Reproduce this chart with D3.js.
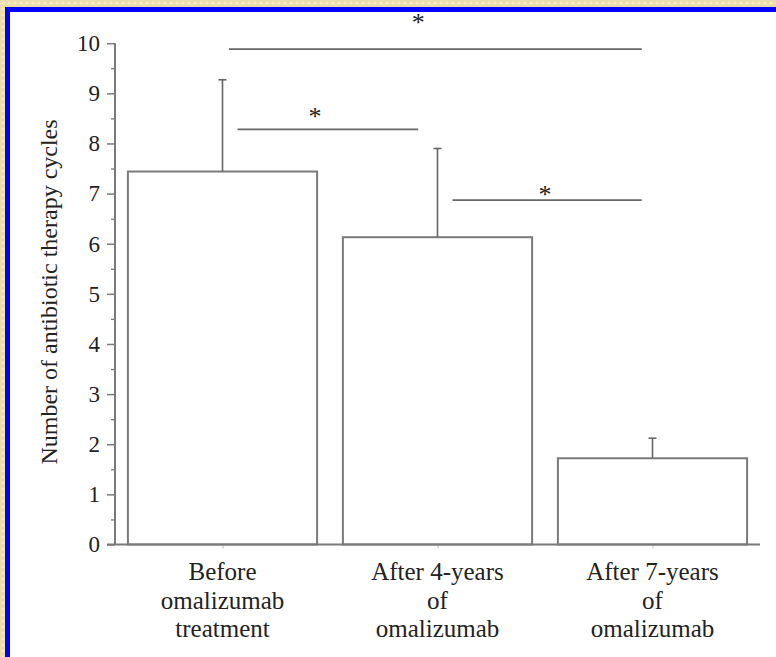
<!DOCTYPE html>
<html>
<head>
<meta charset="utf-8">
<script src="https://cdn.jsdelivr.net/npm/d3@7"></script>
<style>
  html, body { margin: 0; padding: 0; background: #fff; }
  svg { display: block; }
  text { font-family: "Liberation Serif", "Times New Roman", serif; fill: #222; }
</style>
</head>
<body>
<svg id="chart" width="776" height="657"></svg>
<script>
// Group labels (one entry per line of text)
const categories = [
  ["Before", "omalizumab", "treatment"],
  ["After 4-years", "of", "omalizumab"],
  ["After 7-years", "of", "omalizumab"]
];
// Mean number of antibiotic therapy cycles per period
const means = [7.44, 6.13, 1.72];
// Upper error (SD) above each mean
const errors = [1.83, 1.77, 0.40];
// y-axis tick labels
const yTicks = [0, 1, 2, 3, 4, 5, 6, 7, 8, 9, 10];
const yMinorTicks = [0.5, 1.5, 2.5, 3.5, 4.5, 5.5, 6.5, 7.5, 8.5, 9.5];
// Significance brackets: start/end in group-index units, level in y units, star position
const bracketFrom  = [0.07, 0.03, 1.07];
const bracketTo    = [0.91, 1.95, 1.95];
const bracketLevel = [8.28, 9.88, 6.87];
const starAt       = [0.43, 0.91, 1.50];
const starLevel    = [8.62, 10.50, 7.08];
const starText     = ["*", "*", "*"];
const yTitle = "Number of antibiotic therapy cycles";

const svg = d3.select("#chart");
const W = 776, H = 657;

// Page frame: textured beige strip and blue rule along the top and left
const defs = svg.append("defs");
const pat = defs.append("pattern").attr("id", "paper")
  .attr("width", 6).attr("height", 6).attr("patternUnits", "userSpaceOnUse");
pat.append("rect").attr("width", 6).attr("height", 6).attr("fill", "#ecdcab");
pat.append("circle").attr("cx", 3).attr("cy", 3).attr("r", 1.6).attr("fill", "#f6ecc9");
svg.append("rect").attr("width", W).attr("height", H).attr("fill", "url(#paper)");
svg.append("rect").attr("x", 5).attr("y", 7).attr("width", W - 5).attr("height", H - 7).attr("fill", "#0000ff");
svg.append("rect").attr("x", 10).attr("y", 12).attr("width", W - 10).attr("height", H - 12).attr("fill", "#ffffff");

const axisX = 115, x0 = 115, x1 = 760;
const y = d3.scaleLinear().domain([0, 10]).range([544.5, 43.2]);
const x = d3.scaleBand().domain(d3.range(categories.length)).range([x0, x1])
  .paddingInner(0.12).paddingOuter(0.06);
const cx = d3.scaleLinear().domain([0, 1]).range([x(0) + x.bandwidth() / 2, x(1) + x.bandwidth() / 2]);

const gray = "#7a7a7a";

// Bars
svg.append("g").selectAll("rect").data(means).join("rect")
  .attr("x", (d, i) => x(i))
  .attr("y", d => y(d))
  .attr("width", x.bandwidth())
  .attr("height", d => y(0) - y(d))
  .attr("fill", "#fff").attr("stroke", gray).attr("stroke-width", 2);

// Error bars (upper whisker only)
const eg = svg.append("g").attr("stroke", "#666").attr("stroke-width", 1.6);
means.forEach((m, i) => {
  const c = cx(i);
  eg.append("line").attr("x1", c).attr("x2", c).attr("y1", y(m)).attr("y2", y(m + errors[i]));
  eg.append("line").attr("x1", c - 4).attr("x2", c + 4).attr("y1", y(m + errors[i])).attr("y2", y(m + errors[i]));
});

// y axis with labelled major ticks and unlabelled half-step ticks
const yAxis = d3.axisLeft(y).tickValues(yTicks).tickSize(8).tickPadding(7).tickFormat(d3.format("d"));
const ya = svg.append("g").attr("transform", `translate(${axisX},0)`).call(yAxis);
ya.select(".domain").remove();
ya.selectAll(".tick line").attr("stroke", gray).attr("stroke-width", 1.5);
ya.selectAll(".tick text").attr("font-size", 23).attr("font-family", "Liberation Serif").attr("fill", "#222");
const ym = svg.append("g").attr("transform", `translate(${axisX},0)`)
  .call(d3.axisLeft(y).tickValues(yMinorTicks).tickSize(4).tickFormat(""));
ym.select(".domain").remove();
ym.selectAll(".tick line").attr("stroke", gray).attr("stroke-width", 1.3);
svg.append("line").attr("x1", axisX).attr("x2", axisX).attr("y1", y(10)).attr("y2", y(0))
  .attr("stroke", gray).attr("stroke-width", 2);

// x axis
const xa = svg.append("g").attr("transform", `translate(0,${y(0)})`)
  .call(d3.axisBottom(cx).tickValues(d3.range(categories.length)).tickSize(4).tickFormat(""));
xa.select(".domain").remove();
xa.selectAll(".tick line").attr("stroke", "#bbb").attr("stroke-width", 1);
svg.append("line").attr("x1", axisX - 8).attr("x2", x1).attr("y1", y(0)).attr("y2", y(0))
  .attr("stroke", gray).attr("stroke-width", 2);

// Group labels
const lg = svg.append("g").attr("font-size", 25).attr("text-anchor", "middle");
categories.forEach((lines, i) => {
  const t = lg.append("text").attr("x", cx(i)).attr("y", 580);
  lines.forEach((s, k) => t.append("tspan").attr("x", cx(i)).attr("dy", k ? 28.5 : 0).text(s));
});

// y-axis title
svg.append("text")
  .attr("transform", `translate(57,292) rotate(-90)`)
  .attr("text-anchor", "middle").attr("font-size", 24)
  .text(yTitle);

// Significance brackets and stars
const bg = svg.append("g");
bracketLevel.forEach((lv, i) => {
  bg.append("line").attr("x1", cx(bracketFrom[i])).attr("x2", cx(bracketTo[i]))
    .attr("y1", y(lv)).attr("y2", y(lv)).attr("stroke", "#666").attr("stroke-width", 1.8);
  bg.append("text").attr("x", cx(starAt[i])).attr("y", y(starLevel[i]) + 13)
    .attr("text-anchor", "middle").attr("font-size", 26).attr("fill", "#555").text(starText[i]);
});
</script>
</body>
</html>
